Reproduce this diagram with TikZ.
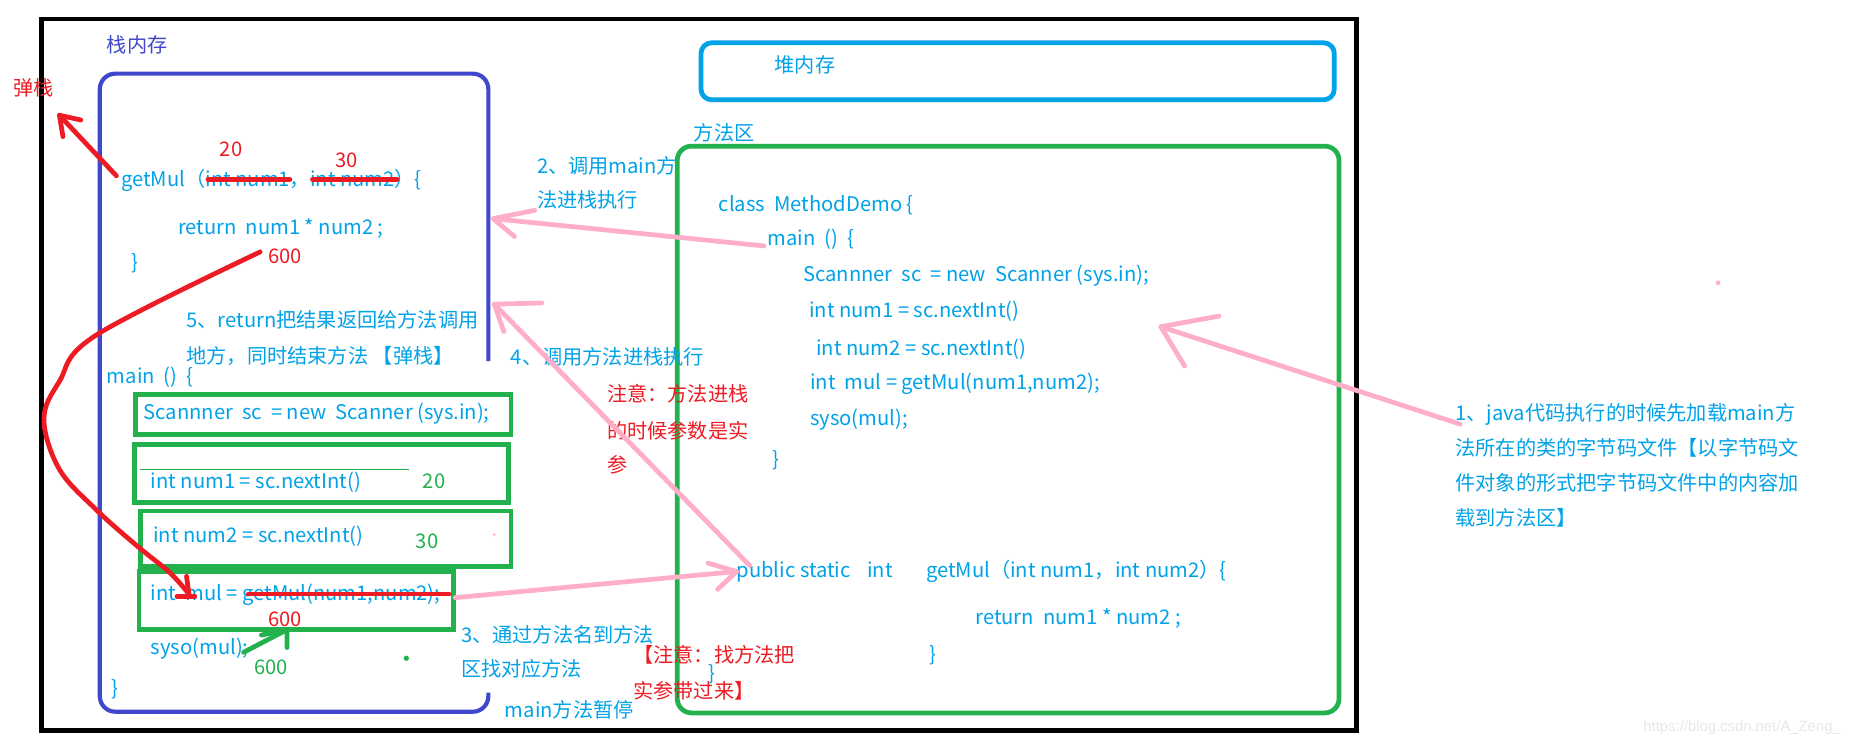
\documentclass[tikz,border=0pt]{standalone}
\usepackage{fontspec}
\setmainfont{Noto Sans CJK SC}
\newfontfamily\wmfont{Liberation Sans}
\definecolor{cblue}{HTML}{00A2E8}
\definecolor{sblue}{HTML}{3F48CC}
\definecolor{cgreen}{HTML}{22B14C}
\definecolor{cred}{HTML}{ED1C24}
\definecolor{cpink}{HTML}{FFAEC9}
\begin{document}
\begin{tikzpicture}[x=1pt,y=-1pt,
  t/.style={anchor=base west, inner sep=0pt, outer sep=0pt, font=\fontsize{17}{20}\selectfont, text=cblue},
  rt/.style={t, text=cred},
  gt/.style={t, text=cgreen},
  frame/.style={draw=black, line width=4},
  stackbox/.style={draw=sblue, line width=3.5, rounded corners=13},
  greenbox/.style={draw=cgreen, line width=4},
  heapbox/.style={draw=cblue, line width=4, rounded corners=9},
  pinkarrow/.style={draw=cpink, line width=4, line cap=round, line join=round},
  redline/.style={draw=cred, line width=4, line cap=round, line join=round},
  greenline/.style={draw=cgreen, line width=4, line cap=round, line join=round}]
\useasboundingbox (0,0) rectangle (1568,627);
\fill[white] (0,0) rectangle (1568,627);
% frames
\draw[frame] (35,16) rectangle (1142,615);
\draw[stackbox] (411,304) -- (411,62) -- (84,62) -- (84,599) -- (411,599) -- (411,583);
\draw[heapbox] (590,36) rectangle (1123,84);
\draw[greenbox, rounded corners=12] (570,123) rectangle (1127,600);
% stack green boxes
\draw[greenbox] (114,332) rectangle (430,366);
\draw[greenbox] (113,374) rectangle (428,423);
\draw[cgreen, line width=1] (118,395) -- (344,395);
\draw[greenbox] (118,430) rectangle (430,477);
\draw[greenbox] (117,481) rectangle (382,530);
% labels
\node[t, text=sblue] (lstack) at (90,44) {栈内存};
\node[rt] (ltan) at (11,80) {弹栈};
\node[t] (lheap) at (652,61) {堆内存};
\node[t] (lmeth) at (584,118) {方法区};
% stack text
\node[t] (sget) at (102,157) {getMul（int num1，int num2）\{};
\node[rt] (s20) at (185,132) {20};
\node[rt] (s30) at (282,141) {30};
\node[t] (sret) at (150,197) {return\ \ num1 * num2 ;};
\node[t] (sclose) at (111,227) {\}};
\node[rt] (s600a) at (226,222) {600};
\node[t] (n5a) at (157,276) {5、return把结果返回给方法调用};
\node[t] (n5b) at (157,306) {地方，同时结束方法 【弹栈】};
\node[t] (smain) at (90,323) {main\ \ ()\ \ \{};
\node[t] (ssc) at (121,353) {Scannner\ \ sc\ \ = new\ \ Scanner (sys.in);};
\node[t] (sn1) at (127,411) {int num1 = sc.nextInt()};
\node[gt] (s20g) at (356,411) {20};
\node[t] (sn2) at (129,457) {int num2 = sc.nextInt()};
\node[gt] (s30g) at (350,462) {30};
\node[t] (smul) at (127,505) {int\ \ mul = getMul(num1,num2);};
\node[rt] (s600b) at (226,527) {600};
\node[t] (ssyso) at (127,551) {syso(mul);};
\node[gt] (s600c) at (214,568) {600};
\node[t] (send) at (94,585) {\}};
% middle notes
\node[t] (n2a) at (452,146) {2、调用main方};
\node[t] (n2b) at (452,175) {法进栈执行};
\node[t] (n4) at (430,307) {4、调用方法进栈执行};
\node[rt] (r1) at (511,338) {注意：方法进栈};
\node[rt] (r2) at (511,369) {的时候参数是实};
\node[rt] (r3) at (511,398) {参};
\node[t] (n3a) at (388,541) {3、通过方法名到方法};
\node[t] (n3b) at (388,569) {区找对应方法};
\node[rt] (r4) at (533,558) {【注意：找方法把};
\node[rt] (r5) at (533,588) {实参带过来】};
\node[t] (npause) at (425,604) {main方法暂停};
% method area code
\node[t] (mclass) at (605,178) {class\ \ MethodDemo \{};
\node[t] (mmain) at (646,207) {main\ \ ()\ \ \{};
\node[t] (msc) at (676,237) {Scannner\ \ sc\ \ = new\ \ Scanner (sys.in);};
\node[t] (mn1) at (681,267) {int num1 = sc.nextInt()};
\node[t] (mn2) at (687,299) {int num2 = sc.nextInt()};
\node[t] (mmul) at (682,328) {int\ \ mul = getMul(num1,num2);};
\node[t] (msyso) at (682,358) {syso(mul);};
\node[t] (mend) at (650,393) {\}};
\node[t] (mpub) at (620,486) {public static\hspace{14pt}int\hspace{28pt}getMul（int num1，int num2）\{};
\node[t] (mret) at (821,526) {return\ \ num1 * num2 ;};
\node[t] (mend2) at (782,557) {\}};
\node[t] (mend3) at (596,573) {\}};
% note 1
\node[t] (n1a) at (1225,354) {1、java代码执行的时候先加载main方};
\node[t] (n1b) at (1225,383) {法所在的类的字节码文件【以字节码文};
\node[t] (n1c) at (1225,413) {件对象的形式把字节码文件中的内容加};
\node[t] (n1d) at (1225,442) {载到方法区】};
\node[anchor=base west, inner sep=0pt, font=\wmfont\fontsize{12.5}{14}\selectfont, text=black!9] (wm) at (1383,616) {https://blog.csdn.net/A\_Zeng\_};
% strike lines
\draw[redline] (175,151) -- (244,151);
\draw[redline] (263,151) -- (334,151);
\draw[redline] (209,500) -- (378,500);
% red pop arrow
\coordinate (pt) at (98,148); \coordinate (ph) at (50,97);
\draw[redline] (pt) -- (ph);
\draw[redline] (68,101) -- (ph) -- (53,115);
% red return curve
\coordinate (ct) at (219,212); \coordinate (ch) at (159,500);
\draw[redline] plot[smooth, tension=0.6] coordinates {(219,212) (81,282) (50,321) (37,353) (50,395) (81,429) (116,460) (143,482) (159,500)};
\draw[redline] (157,485) -- (ch);
\draw[redline] (149,502) -- (164,502);
% green arrow
\coordinate (gt0) at (205,549); \coordinate (gh) at (241.5,530);
\draw[greenline] (gt0) -- (gh);
\draw[greenline] (220,534.5) -- (gh) -- (241.5,545);
% pink arrows
\coordinate (a2t) at (643,207); \coordinate (a2h) at (415,184);
\draw[pinkarrow] (a2t) -- (a2h);
\draw[pinkarrow] (450,177) -- (a2h) -- (433,199);
\coordinate (a4t) at (631,476); \coordinate (a4h) at (416,256);
\draw[pinkarrow] (a4t) -- (a4h);
\draw[pinkarrow] (456,255) -- (a4h) -- (424,279);
\coordinate (a3t) at (383,503); \coordinate (a3h) at (620,481);
\draw[pinkarrow] (a3t) -- (a3h);
\draw[pinkarrow] (596,474) -- (a3h) -- (604,496);
\coordinate (a1t) at (1229,357); \coordinate (a1h) at (977,275);
\draw[pinkarrow] (a1t) -- (a1h);
\draw[pinkarrow] (1026,266) -- (a1h) -- (997,308);
% dots
\fill[cpink] (1446,238) circle (2);
\fill[cpink] (416,450) circle (1.2);
\fill[cgreen] (342,554) circle (2.2);
\end{tikzpicture}
\end{document}
